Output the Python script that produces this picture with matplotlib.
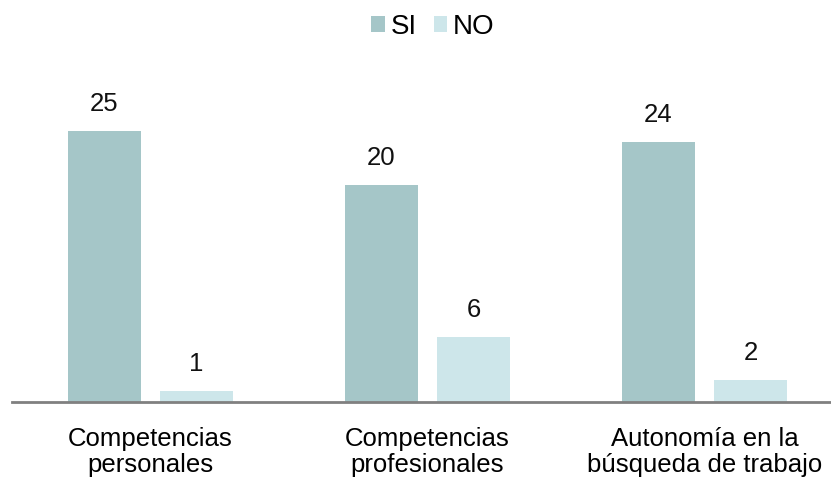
import matplotlib.pyplot as plt
import numpy as np

categories = ["Competencias\npersonales", "Competencias\nprofesionales", "Autonomía en la\nbúsqueda de trabajo"]
si_values = [25, 20, 24]
no_values = [1, 6, 2]

plt.rcParams['font.family'] = ['Liberation Sans', 'DejaVu Sans']

fig = plt.figure(figsize=(8.31, 4.78), dpi=100)
ax = fig.add_axes([12 / 831, 1 - 402 / 478, 819 / 831, (402 - 77) / 478])

x = np.arange(len(categories))
w = 0.267
gap = 0.065
b1 = ax.bar(x - (w + gap) / 2, si_values, w, color='#a5c6c8', label='SI')
b2 = ax.bar(x + (w + gap) / 2, no_values, w, color='#cde6ea', label='NO')

for bars in (b1, b2):
    for rect in bars:
        ax.annotate(f"{int(rect.get_height())}",
                    (rect.get_x() + rect.get_width() / 2, rect.get_height()),
                    xytext=(0, 11), textcoords='offset points',
                    ha='center', va='bottom', fontsize=18.5, color='#111111')

ax.set_xlim(-0.5, -0.5 + 819 / 277)
ax.set_ylim(0, 30)
ax.set_xticks(x)
ax.set_xticklabels(categories, fontsize=18.5, linespacing=1.1)
ax.tick_params(axis='x', length=0, pad=18)
ax.set_yticks([])
for s in ['top', 'right', 'left']:
    ax.spines[s].set_visible(False)
ax.spines['bottom'].set_color('#808080')
ax.spines['bottom'].set_linewidth(2)

fig.legend(loc='center', bbox_to_anchor=(433 / 831, 1 - 27 / 478), ncol=2, frameon=False,
           fontsize=20, handlelength=0.5, handleheight=0.5, handletextpad=0.2,
           columnspacing=0.6, borderpad=0)

fig.savefig('out.png', dpi=100)
